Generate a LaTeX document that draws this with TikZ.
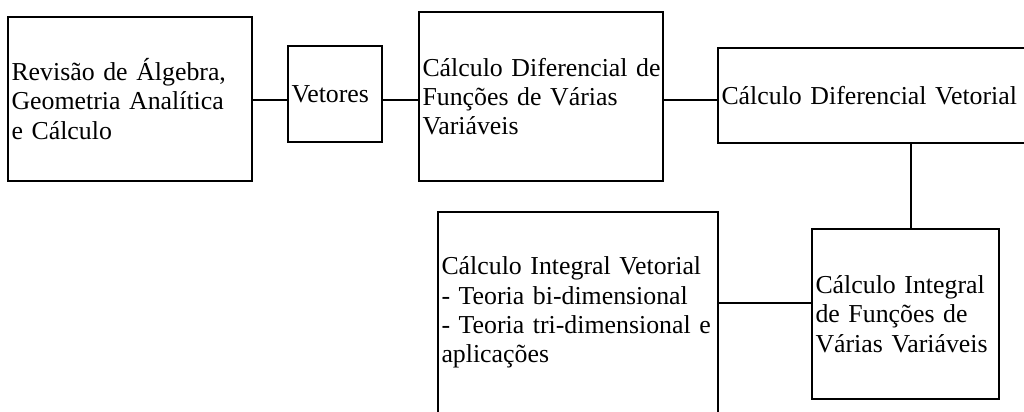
\documentclass[tikz,border=0pt]{standalone}
\usepackage{fontspec}
\setmainfont{Liberation Serif}
\begin{document}
\begin{tikzpicture}[x=0.02cm,y=-0.02cm,line width=1pt,
	box/.style={draw, anchor=north west, align=left, inner xsep=0.07cm, inner ysep=0pt, outer sep=0pt, font=\fontsize{14.7}{16.7}\selectfont}]
	\useasboundingbox (0,0) rectangle (1024,412);
	
	\node[box, text width=4.74cm, minimum height=3.28cm] (A) at (8,17) {\mbox{Revisão de Álgebra,}\\\mbox{Geometria Analítica}\\e Cálculo};
	\node[box, text width=1.74cm, minimum height=1.92cm] (B) at (288,46) {Vetores};
	\node[box, text width=4.74cm, minimum height=3.38cm] (C) at (419,12) {\mbox{Cálculo Diferencial de}\\\mbox{Funções de Várias}\\Variáveis};
	\node[box, text width=6.1cm, minimum height=1.9cm] (D) at (718,48) {\mbox{Cálculo Diferencial Vetorial}};
	\node[box, text width=3.6cm, minimum height=3.4cm] (E) at (812,229) {\mbox{Cálculo Integral}\\\mbox{de Funções de}\\\mbox{Várias Variáveis}};
	\node[box, text width=5.46cm, minimum height=4.56cm, text depth=2.4cm] (F) at (438,212) {\mbox{Cálculo Integral Vetorial}\\\mbox{- Teoria bi-dimensional}\\\mbox{- Teoria tri-dimensional e}\\aplicações};
	
	\coordinate (r1) at (0,100);
	\coordinate (r2) at (0,303);
	\coordinate (c1) at (911,0);
	
	\draw (A.east |- r1) -- (B.west |- r1);
	\draw (B.east |- r1) -- (C.west |- r1);
	\draw (C.east |- r1) -- (D.west |- r1);
	\draw (D.south -| c1) -- (E.north -| c1);
	\draw (F.east |- r2) -- (E.west |- r2);
\end{tikzpicture}
\end{document}
